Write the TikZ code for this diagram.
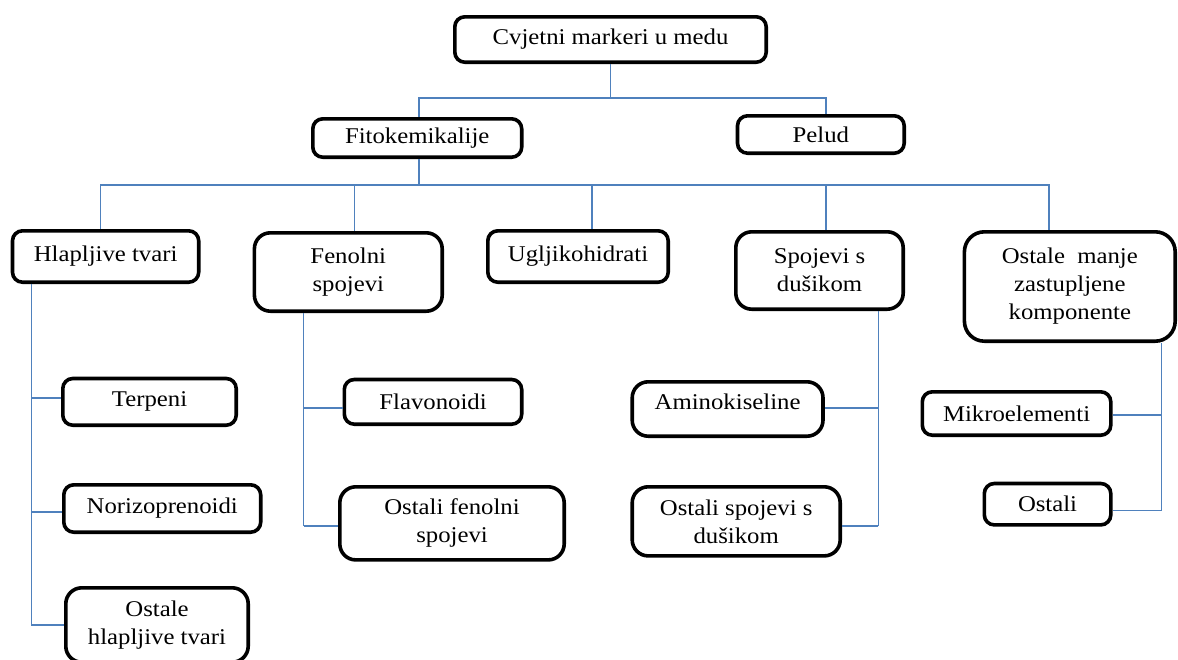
\documentclass[tikz,border=0pt]{standalone}
\usepackage{fontspec}
\setmainfont{Liberation Serif}[FakeStretch=1.1]
\definecolor{connblue}{RGB}{79,129,189}
\tikzset{
  box/.style={draw=black, line width=3.6pt, rounded corners=10pt, inner sep=0pt,
    align=center, font=\fontsize{22.5}{28}\selectfont, fill=white},
  tallbox/.style={rounded corners=16pt},
  conn/.style={draw=connblue, line width=1.6pt}
}
\newcommand\mybox[7][]{\node[box,#1,minimum width={#4-#2-3.6},minimum height={#5-#3-3.6}] (#6) at ({(#2+#4)/2},{(#3+#5)/2}) {#7};}
\begin{document}
\begin{tikzpicture}[x=1pt,y=-1pt]
\useasboundingbox (0,0) rectangle (1178,659);
\fill[white] (0,0) rectangle (1178,659);
% bus coordinates
\coordinate (bus1) at (610.5,98);
\coordinate (bus2) at (418.7,185);
\coordinate (hv) at (31.4,625);
\coordinate (fv) at (303.5,525.7);
\coordinate (sv) at (878.4,525.7);
\coordinate (ov) at (1161.6,511);
% boxes
\mybox{453}{15}{768}{64}{root}{Cvjetni markeri u medu}
\mybox{311}{117}{523.5}{159}{fito}{Fitokemikalije}
\mybox{735.7}{114}{906}{155}{pelud}{Pelud}
\mybox{10.7}{229}{200.5}{284}{hlap}{Hlapljive tvari}
\mybox[tallbox]{252.6}{231}{444}{313}{fen}{Fenolni\\spojevi}
\mybox{486}{229}{670}{284}{ugl}{Ugljikohidrati}
\mybox[tallbox]{734}{230}{905}{311}{spoj}{Spojevi s\\dušikom}
\mybox[tallbox,rounded corners=20pt]{962.6}{230}{1177}{343}{ost}{Ostale \ manje\\zastupljene\\komponente}
\mybox{61}{376.7}{238}{427}{terp}{Terpeni}
\mybox{62}{483}{262.5}{534}{nor}{Norizoprenoidi}
\mybox[tallbox]{64}{586}{250}{664}{osh}{Ostale\\hlapljive tvari}
\mybox{342.5}{377.7}{523.5}{426}{flav}{Flavonoidi}
\mybox[tallbox]{338}{485}{566}{561.7}{osf}{Ostali fenolni\\spojevi}
\mybox[tallbox,text depth=14pt]{630.4}{380}{824.8}{438}{amino}{Aminokiseline}
\mybox[tallbox]{630.4}{485}{842}{557.7}{oss}{Ostali spojevi s\\dušikom}
\mybox{920.5}{390}{1112.6}{437}{mikro}{Mikroelementi}
\mybox{982.5}{481.7}{1112.6}{526.7}{ostali}{Ostali}
% level 1
\draw[conn] (root.south -| bus1) -- (bus1);
\draw[conn] (bus1) -| (fito.north -| bus2);
\draw[conn] (bus1) -| ([xshift=5pt]pelud.north);
% level 2
\draw[conn] (fito.south -| bus2) -- (bus2);
\draw[conn] (bus2) -| ([xshift=-5pt]hlap.north);
\draw[conn] (bus2) -| ([xshift=6pt]fen.north);
\draw[conn] (bus2) -| ([xshift=14pt]ugl.north);
\draw[conn] (bus2) -| ([xshift=6.5pt]spoj.north);
\draw[conn] (bus2) -| ([xshift=-21pt]ost.north);
% hlapljive tvari
\draw[conn] (hlap.south -| hv) -- (hv);
\draw[conn] (hv |- 0,398) -- (terp.west |- 0,398);
\draw[conn] (hv |- 0,511.7) -- (nor.west |- 0,511.7);
\draw[conn] (hv) -- (osh.west |- hv);
% fenolni spojevi
\draw[conn] (fen.south -| fv) -- (fv);
\draw[conn] (fv |- 0,408) -- (flav.west |- 0,408);
\draw[conn] (fv) -- (osf.west |- fv);
% spojevi s dusikom
\draw[conn] (spoj.south -| sv) -- (sv);
\draw[conn] (sv |- 0,408) -- (amino.east |- 0,408);
\draw[conn] (sv) -- (oss.east |- sv);
% ostale manje zastupljene komponente
\draw[conn] (ost.south -| ov) -- (ov);
\draw[conn] (ov |- 0,415) -- (mikro.east |- 0,415);
\draw[conn] (ov |- 0,510.3) -- (ostali.east |- 0,510.3);
\end{tikzpicture}
\end{document}
